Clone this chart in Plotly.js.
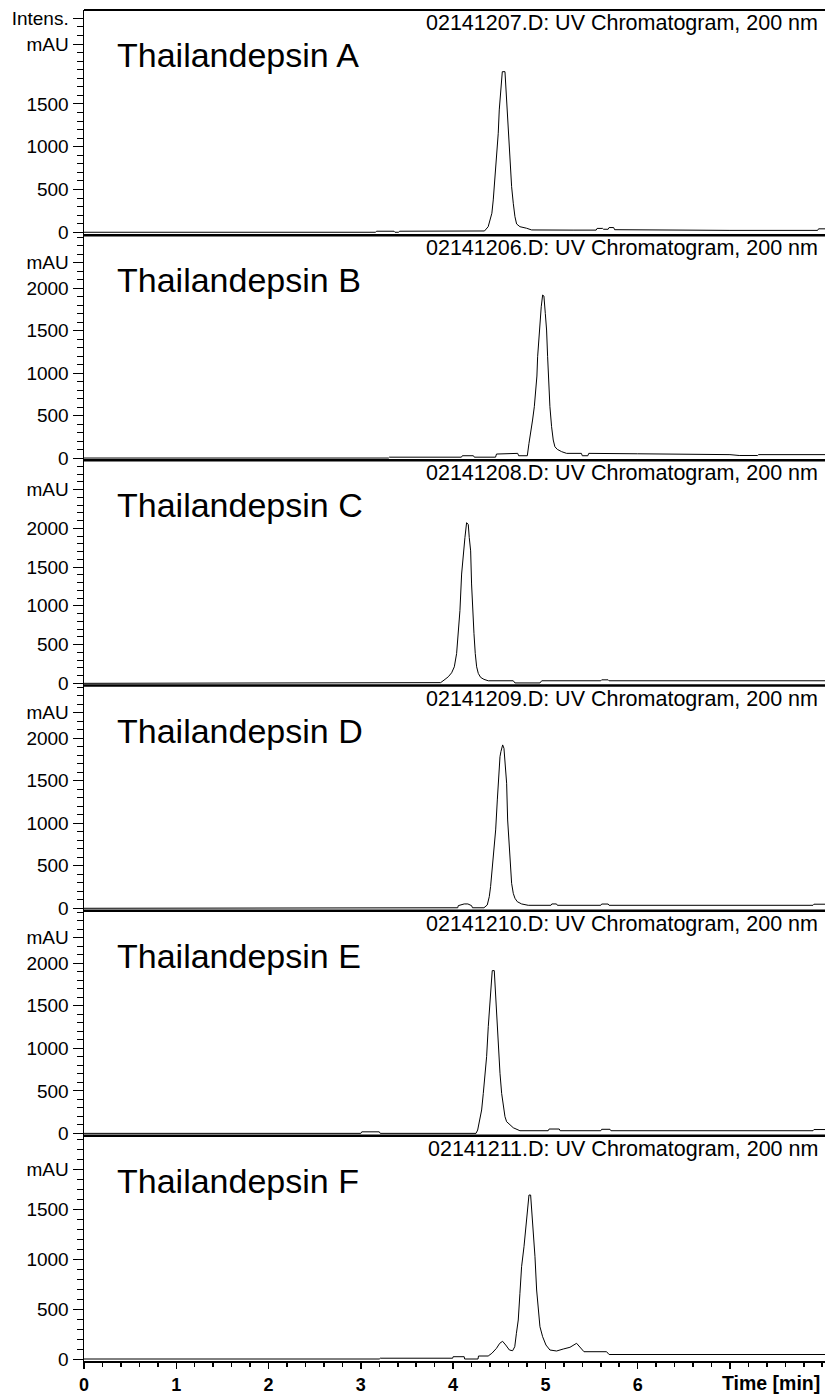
<!DOCTYPE html>
<html>
<head>
<meta charset="utf-8">
<script src="https://cdn.plot.ly/plotly-3.0.1.min.js"></script>
<style>
  html, body { margin: 0; padding: 0; background: #fff; }
  #chart { width: 825px; height: 1395px; }
</style>
</head>
<body>
<div id="chart"></div>
<script>
// ---- data: [time (min), intensity (mAU)] ----
const traceA = [[0,0],[3.16,0],[3.17,12],[3.36,12],[3.37,0],[3.41,0],[3.42,12],[4.33,12],[4.34,15],[4.38,65],[4.42,222],[4.435,378],[4.453,611],[4.471,845],[4.489,1157],[4.50,1430],[4.515,1624],[4.533,1877],[4.562,1877],[4.569,1741],[4.58,1546],[4.598,1234],[4.616,845],[4.634,533],[4.652,339],[4.67,182],[4.688,97],[4.724,65],[4.796,47],[4.851,27],[5.3,25],[5.55,25],[5.56,45],[5.62,45],[5.63,35],[5.68,35],[5.69,55],[5.74,55],[5.75,30],[6.2,25],[7.0,22],[7.95,22],[7.96,40],[8.03,40]];
const traceB = [[0,0],[3.3,0],[3.31,10],[4.09,10],[4.10,27],[4.22,27],[4.23,10],[4.46,10],[4.47,47],[4.54,47],[4.55,55],[4.70,55],[4.71,27],[4.804,27],[4.822,173],[4.84,290],[4.861,447],[4.88,604],[4.894,800],[4.908,965],[4.916,1192],[4.927,1388],[4.941,1663],[4.955,1780],[4.97,1918],[4.984,1906],[4.999,1702],[5.013,1506],[5.024,1192],[5.035,918],[5.049,604],[5.067,369],[5.085,212],[5.103,133],[5.129,102],[5.176,75],[5.23,55],[5.39,55],[5.40,27],[5.46,27],[5.47,55],[6.0,50],[6.8,45],[7.0,40],[7.1,30],[7.3,30],[7.31,40],[8.03,40]];
const traceC = [[0,0],[3.62,0],[3.63,9],[3.865,9],[3.912,51],[3.948,85],[3.984,136],[4.013,213],[4.038,385],[4.056,641],[4.074,940],[4.092,1410],[4.11,1709],[4.128,1880],[4.146,2072],[4.164,2051],[4.175,1880],[4.19,1709],[4.20,1282],[4.211,940],[4.226,641],[4.24,385],[4.255,213],[4.273,128],[4.298,77],[4.334,51],[4.381,33],[4.652,33],[4.67,5],[4.941,5],[4.96,33],[5.6,33],[5.61,45],[5.68,45],[5.69,33],[8.03,33]];
const traceD = [[0,0],[3.4,0],[3.41,6],[4.05,6],[4.056,31],[4.12,51],[4.16,51],[4.20,31],[4.21,6],[4.334,6],[4.37,39],[4.392,137],[4.406,255],[4.424,451],[4.442,647],[4.461,922],[4.479,1275],[4.493,1549],[4.508,1784],[4.518,1843],[4.537,1922],[4.551,1882],[4.565,1706],[4.58,1471],[4.591,1039],[4.605,804],[4.62,529],[4.634,294],[4.652,176],[4.67,118],[4.695,78],[4.742,51],[4.814,35],[5.06,35],[5.07,51],[5.12,51],[5.13,35],[5.6,35],[5.61,50],[5.68,50],[5.69,35],[7.9,35],[7.91,48],[8.03,48]];
const traceE = [[0,0],[3.0,0],[3.01,18],[3.2,18],[3.21,0],[4.248,0],[4.266,39],[4.291,157],[4.309,275],[4.327,470],[4.345,667],[4.363,902],[4.381,1255],[4.399,1569],[4.41,1725],[4.424,1914],[4.446,1914],[4.453,1765],[4.471,1333],[4.489,941],[4.508,706],[4.526,470],[4.544,314],[4.562,196],[4.58,137],[4.616,98],[4.652,66],[4.724,31],[5.03,31],[5.04,51],[5.15,51],[5.16,31],[5.6,31],[5.61,48],[5.7,48],[5.71,31],[7.9,31],[7.91,45],[8.03,45]];
const traceF = [[0,0],[3.2,0],[3.21,8],[3.995,8],[4.0,23],[4.12,23],[4.125,0],[4.27,0],[4.275,30],[4.38,30],[4.42,57],[4.47,107],[4.505,157],[4.536,177],[4.57,140],[4.61,90],[4.645,83],[4.668,123],[4.686,257],[4.706,390],[4.724,657],[4.742,923],[4.768,1123],[4.789,1323],[4.807,1457],[4.822,1640],[4.84,1640],[4.851,1490],[4.869,1323],[4.887,1023],[4.905,690],[4.923,457],[4.941,323],[4.97,223],[5.006,140],[5.049,90],[5.121,80],[5.194,100],[5.266,117],[5.338,157],[5.374,123],[5.418,73],[5.663,73],[5.69,45],[8.03,45]];

const compounds = ['Thailandepsin A','Thailandepsin B','Thailandepsin C','Thailandepsin D','Thailandepsin E','Thailandepsin F'];
const files = ['02141207.D','02141206.D','02141208.D','02141209.D','02141210.D','02141211.D'];
const fileSuffix = ': UV Chromatogram, 200 nm';

// y ranges (mAU) of each panel
const yRanges = [[-34,2598],[-27,2622],[-28,2877],[-28,2621],[-29,2619],[-20,2232]];
// y tick values / labels per panel
const yTickVals = [
  [0,500,1000,1500,2200,2500],
  [0,500,1000,1500,2000,2300],
  [0,500,1000,1500,2000,2500],
  [0,500,1000,1500,2000,2300],
  [0,500,1000,1500,2000,2300],
  [0,500,1000,1500,1900]
];
const yTickText = [
  ['0','500','1000','1500','mAU','Intens.'],
  ['0','500','1000','1500','2000','mAU'],
  ['0','500','1000','1500','2000','mAU'],
  ['0','500','1000','1500','2000','mAU'],
  ['0','500','1000','1500','2000','mAU'],
  ['0','500','1000','1500','mAU']
];
const xTickVals = [0,1,2,3,4,5,6,7];
const xTickText = ['0','1','2','3','4','5','6',''];
const xRange = [0, 8.03];

const traces = [traceA, traceB, traceC, traceD, traceE, traceF];
const FONT = 'Liberation Sans, Arial, sans-serif';
const N = 6;

const data = traces.map((tr, i) => ({
  x: tr.map(p => p[0]),
  y: tr.map(p => p[1]),
  type: 'scatter',
  mode: 'lines',
  line: {color: '#000', width: 1},
  xaxis: 'x',
  yaxis: i === 0 ? 'y' : 'y' + (i + 1),
  hoverinfo: 'skip',
  showlegend: false
}));

const layout = {
  width: 825,
  height: 1395,
  margin: {l: 84, r: 0, t: 10, b: 34},
  paper_bgcolor: '#fff',
  plot_bgcolor: '#fff',
  showlegend: false,
  xaxis: {
    domain: [0, 1],
    range: xRange,
    anchor: 'y6',
    tickmode: 'array',
    tickvals: xTickVals,
    ticktext: xTickText,
    ticks: 'outside',
    ticklen: 6,
    tickwidth: 1.5,
    tickcolor: '#000',
    showline: true,
    linecolor: '#000',
    linewidth: 2,
    showgrid: false,
    zeroline: false,
    tickfont: {family: FONT, size: 18, color: '#000', weight: 'bold'},
    minor: {tickmode: 'linear', tick0: 0, dtick: 0.2, ticks: 'outside', ticklen: 4, tickcolor: '#000', tickwidth: 1.5},
    fixedrange: true
  },
  annotations: [],
  shapes: []
};

for (let i = 0; i < N; i++) {
  const top = 1 - i / N;
  const bottom = 1 - (i + 1) / N;
  const key = i === 0 ? 'yaxis' : 'yaxis' + (i + 1);
  layout[key] = {
    domain: [bottom, top],
    range: yRanges[i],
    anchor: 'x',
    tickmode: 'array',
    tickvals: yTickVals[i],
    ticktext: yTickText[i],
    ticks: 'outside',
    ticklen: 10,
    tickwidth: 1,
    tickcolor: '#000',
    showline: true,
    linecolor: '#000',
    linewidth: 1.5,
    showgrid: false,
    zeroline: false,
    tickfont: {family: FONT, size: 19, color: '#000'},
    minor: {tickmode: 'linear', tick0: 0, dtick: 100, ticks: 'outside', ticklen: 6, tickcolor: '#000', tickwidth: 1},
    fixedrange: true
  };
  // panel top border
  layout.shapes.push({
    type: 'line', xref: 'paper', yref: 'paper',
    x0: 0, x1: 1, y0: top, y1: top,
    line: {color: '#000', width: i === 0 ? 2 : 2.5}
  });
  // file name
  layout.annotations.push({
    xref: 'paper', yref: 'paper', x: 1, y: top,
    xanchor: 'right', yanchor: 'middle', xshift: -5, yshift: -13,
    text: files[i] + fileSuffix, showarrow: false,
    font: {family: FONT, size: 21.5, color: '#000'}
  });
  // compound label
  layout.annotations.push({
    xref: 'paper', yref: 'paper', x: 31 / 741, y: top,
    xanchor: 'left', yanchor: 'middle', yshift: -45,
    text: compounds[i], showarrow: false,
    font: {family: FONT, size: 34, color: '#000'}
  });
}

layout.annotations.push({
  xref: 'paper', yref: 'paper', x: 1, y: 0,
  xanchor: 'right', yanchor: 'middle', xshift: -3, yshift: -22,
  text: 'Time [min]', showarrow: false,
  font: {family: FONT, size: 19.5, color: '#000', weight: 'bold'}
});

Plotly.newPlot('chart', data, layout, {staticPlot: true, displayModeBar: false});
</script>
</body>
</html>
